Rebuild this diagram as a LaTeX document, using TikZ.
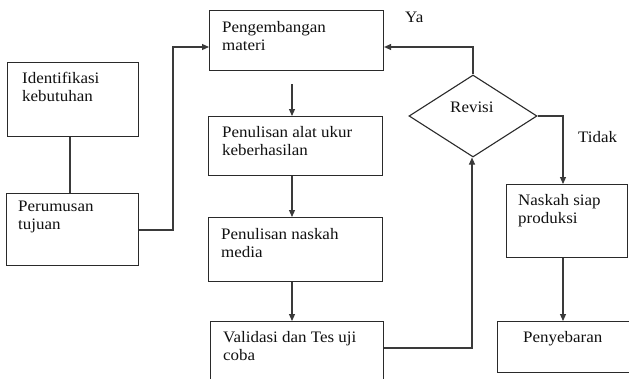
\documentclass[tikz,border=0pt]{standalone}
\usepackage{fontspec}
\setmainfont{Liberation Serif}[FakeStretch=1.06]
\usetikzlibrary{shapes.geometric,arrows.meta}
\definecolor{boxline}{HTML}{2A2A2A}
\definecolor{conn}{HTML}{3A3A3A}
\definecolor{txt}{HTML}{111111}
\tikzset{
  box/.style={draw=boxline, line width=1.1pt, rectangle, inner sep=0pt, anchor=north west},
  lbl/.style={anchor=north west, inner sep=0pt, align=left, text=txt, font=\fontsize{16}{18}\selectfont},
  conline/.style={draw=conn, line width=1.1pt},
  arr/.style={conline, -{Triangle[length=7pt,width=6pt]}},
}
\begin{document}
\begin{tikzpicture}[x=1pt,y=-1pt]
\clip (0,0) rectangle (629,378);
\fill[white] (0,0) rectangle (629,378);
% boxes
\node[box, minimum width=131pt, minimum height=74pt] (ident) at (7,62) {};
\node[box, minimum width=132pt, minimum height=72pt] (perum) at (6,193) {};
\node[box, minimum width=174pt, minimum height=60pt] (peng) at (209,10) {};
\node[box, minimum width=174pt, minimum height=59pt] (alat) at (208,116) {};
\node[box, minimum width=174pt, minimum height=64pt] (nask) at (208,217) {};
\node[box, minimum width=173pt, minimum height=80pt] (valid) at (210,321) {};
\node[box, minimum width=121pt, minimum height=73pt] (siap) at (506,184) {};
\node[box, minimum width=140pt, minimum height=51pt] (sebar) at (497,321) {};
\node[draw=boxline, line width=1.1pt, diamond, inner sep=0pt, minimum width=128pt, minimum height=82pt] (rev) at (473,116) {};
% texts
\node[lbl] (tident) at (22,72) {Identifikasi\\kebutuhan};
\node[lbl] (tperum) at (18,201) {Perumusan\\tujuan};
\node[lbl] (tpeng) at (222,21) {Pengembangan\\materi};
\node[lbl] (talat) at (222,126) {Penulisan alat ukur\\keberhasilan};
\node[lbl] (tnask) at (221,228) {Penulisan naskah\\media};
\node[lbl] (tvalid) at (223,331) {Validasi dan Tes uji\\coba};
\node[lbl] (tsiap) at (518,194) {Naskah siap\\produksi};
\node[lbl] (tsebar) at (523,331) {Penyebaran};
\node[lbl] (trev) at (450,102) {Revisi};
\node[lbl] (tya) at (405,12) {Ya};
\node[lbl] (ttidak) at (578,131) {Tidak};
% connector helper coordinates
\coordinate (pengout) at (292,84);
\coordinate (c1) at (173,230);
\coordinate (c2) at (173,47);
\coordinate (c3) at (473,47);
\coordinate (c4) at (472,348);
\coordinate (c5) at (563,116);
% connectors
\draw[conline] (ident.south -| 70,0) -- (perum.north -| 70,0);
\draw[arr] (perum.east |- c1) -- (c1) -- (c2) -- (peng.west |- c2);
\draw[arr] (pengout) -- (alat.north -| pengout);
\draw[arr] (alat.south -| pengout) -- (nask.north -| pengout);
\draw[arr] (nask.south -| pengout) -- (valid.north -| pengout);
\draw[arr] (valid.east |- c4) -- (c4) -- (rev.south -| c4);
\draw[arr] (rev.north) -- (c3) -- (peng.east |- c3);
\draw[arr] (rev.east) -- (c5 |- rev.east) -- (siap.north -| c5);
\draw[arr] (siap.south -| c5) -- (sebar.north -| c5);
\end{tikzpicture}
\end{document}
